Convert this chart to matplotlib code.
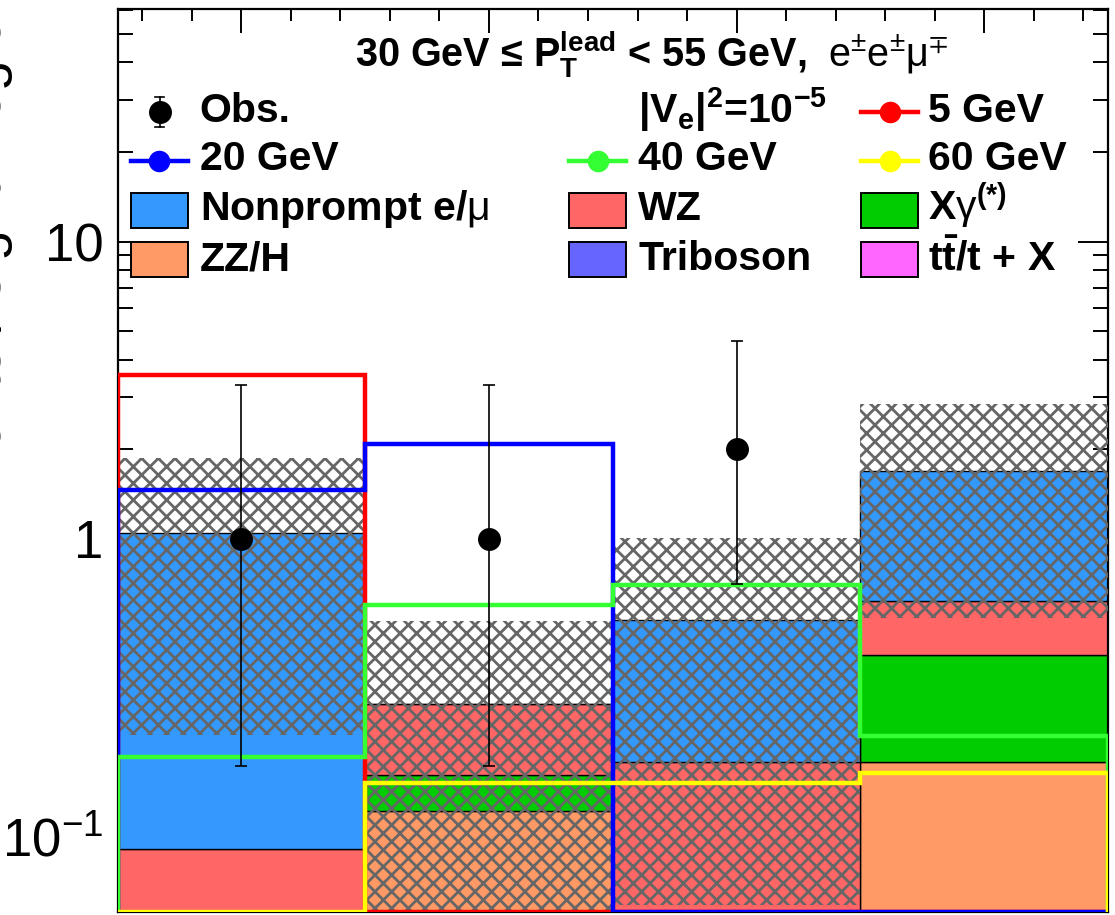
import numpy as np
import matplotlib
matplotlib.use('Agg')
import matplotlib.pyplot as plt
from matplotlib.patches import Rectangle
from matplotlib.lines import Line2D
from matplotlib.ticker import FixedLocator, MultipleLocator, NullFormatter, FixedFormatter

plt.rcParams['font.family'] = ['Liberation Sans', 'DejaVu Sans']
plt.rcParams['mathtext.fontset'] = 'custom'
plt.rcParams['mathtext.rm'] = 'Liberation Sans'
plt.rcParams['mathtext.it'] = 'Liberation Sans:italic'
plt.rcParams['mathtext.bf'] = 'Liberation Sans:bold'
plt.rcParams['mathtext.default'] = 'regular'
plt.rcParams['hatch.linewidth'] = 2.0

# ---------------- data ----------------
bin_edges = [0.5, 1.5, 2.5, 3.5, 4.5]
bin_centers = [1, 2, 3, 4]

# backgrounds (stacked bottom -> top)
ttx = [0.005, 0.005, 0.005, 0.005]
triboson = [0.005, 0.005, 0.005, 0.005]
zzh = [0.020, 0.112, 0.025, 0.168]
xgamma = [0.010, 0.039, 0.015, 0.228]
wz = [0.051, 0.118, 0.128, 0.211]
nonprompt = [0.957, 0.0, 0.354, 1.075]
bkg_unc = [0.828, 0.250, 0.473, 1.150]

# signals |V_e|^2 = 1e-5
sig_5 = [3.57, 0.0, 0.0, 0.0]
sig_20 = [1.46, 2.08, 0.0, 0.0]
sig_40 = [0.185, 0.602, 0.702, 0.217]
sig_60 = [0.0, 0.151, 0.151, 0.163]

obs = [1, 1, 2, 0]
obs_err_lo = [0.827, 0.827, 1.292, 0.0]
obs_err_hi = [2.300, 2.300, 2.638, 0.0]

YMIN, YMAX = 0.0557, 60.5

c_np, c_wz, c_xg = '#3399FF', '#FF6666', '#00CC00'
c_zz, c_tri, c_ttx = '#FF9966', '#6666FF', '#FF66FF'
sig_colors = ['#FF0000', '#0000FF', '#33FF33', '#FFFF00']

W, H = 1115, 915
fig = plt.figure(figsize=(W / 100, H / 100), dpi=100)


def fx(px):
    return px / W


def fy(py):
    return 1 - py / H


ax = fig.add_axes([fx(117.5), fy(912), (1108 - 117.5) / W, (912 - 9) / H])
ax.set_yscale('log')
ax.set_xlim(bin_edges[0], bin_edges[-1])
ax.set_ylim(YMIN, YMAX)

# stacked backgrounds
stack = [(ttx, c_ttx), (triboson, c_tri), (zzh, c_zz), (xgamma, c_xg),
         (wz, c_wz), (nonprompt, c_np)]
bottom = np.zeros(4)
for vals, col in stack:
    vals = np.array(vals)
    ax.bar(bin_centers, vals, bottom=bottom, width=1.0, color=col,
           edgecolor='black', linewidth=1.0, zorder=2)
    bottom = bottom + vals
total = bottom

# uncertainty band
unc = np.array(bkg_unc)
ax.bar(bin_centers, 2 * unc, bottom=total - unc, width=1.0, fill=False,
       hatch='xx', edgecolor='#666666', linewidth=0, zorder=3)

# signals
for vals, col in zip([sig_5, sig_20, sig_40, sig_60], sig_colors):
    v = np.maximum(np.array(vals), YMIN)
    ax.stairs(v, bin_edges, baseline=YMIN, color=col, linewidth=3.2, zorder=4)

# observed
obs_a = np.array(obs, dtype=float)
m = obs_a > 0
ax.errorbar(np.array(bin_centers)[m], obs_a[m],
            yerr=[np.array(obs_err_lo)[m], np.array(obs_err_hi)[m]],
            fmt='o', color='black', markersize=15.5, elinewidth=1.2,
            capsize=4.5, capthick=1.2, zorder=6)

# axes styling
for s in ax.spines.values():
    s.set_linewidth(1.6)
ax.xaxis.set_major_locator(MultipleLocator(1))
ax.xaxis.set_minor_locator(MultipleLocator(0.2))
ax.tick_params(axis='x', which='both', direction='in', top=True, bottom=True,
               labelbottom=False, width=1.4)
ax.tick_params(axis='x', which='major', length=17)
ax.tick_params(axis='x', which='minor', length=8.6)
ax.yaxis.set_major_locator(FixedLocator([0.1, 1, 10]))
ax.yaxis.set_major_formatter(FixedFormatter(['$10^{-1}$', '1', '10']))
minors = [k * d for d in [0.01, 0.1, 1, 10] for k in range(2, 10)]
ax.yaxis.set_minor_locator(FixedLocator(minors))
ax.yaxis.set_minor_formatter(NullFormatter())
ax.tick_params(axis='y', which='both', direction='in', left=True, right=True,
               width=1.4, labelsize=38, pad=10)
ax.tick_params(axis='y', which='major', length=21.6)
ax.tick_params(axis='y', which='minor', length=10.8)

# ---------------- header & legend ----------------
FS = 29.5
fig.text(fx(355), fy(66.7), '30 GeV \u2264 P$_{T}^{lead}$ < 55 GeV,', fontsize=28.5,
         fontweight='bold', va='baseline', ha='left')
fig.text(fx(828), fy(66.7), 'e$^{\\pm}$e$^{\\pm}\\mu^{\\mp}$', fontsize=28.5,
         va='baseline', ha='left')

col_box = [130.7, 569, 861]
col_txt = [199.7, 638.3, 928.3]
baselines = [122.5, 169.5, 220, 270.5]
sym_y = [111.7, 161]
box_top = [192.7, 242.3]
box_w, box_h = 57.3, 35

# Obs entry
ox, oy = 159.7, sym_y[0]
fig.add_artist(Line2D([fx(ox), fx(ox)], [fy(97), fy(127)], color='black', lw=1.2))
for yy in (97, 127):
    fig.add_artist(Line2D([fx(ox - 4.5), fx(ox + 4.5)], [fy(yy), fy(yy)], color='black', lw=1.2))
fig.add_artist(Line2D([fx(ox)], [fy(oy)], marker='o', color='black', markersize=15.5))
fig.text(fx(col_txt[0]), fy(baselines[0]), 'Obs.', fontsize=FS, fontweight='bold', va='baseline')

fig.text(fx(col_txt[1]), fy(baselines[0]), '|V$_{e}$|$^{2}$=10$^{-5}$', fontsize=FS,
         fontweight='bold', va='baseline')

sig_entries = [(2, 0, '5 GeV', sig_colors[0]), (0, 1, '20 GeV', sig_colors[1]),
               (1, 1, '40 GeV', sig_colors[2]), (2, 1, '60 GeV', sig_colors[3])]
for c, r, lab, col in sig_entries:
    x0 = col_box[c]
    y0 = sym_y[r]
    fig.add_artist(Line2D([fx(x0), fx(x0 + box_w)], [fy(y0), fy(y0)], color=col, lw=3.2))
    fig.add_artist(Line2D([fx(x0 + box_w / 2)], [fy(y0)], marker='o', color=col, markersize=14.5))
    fig.text(fx(col_txt[c]), fy(baselines[r]), lab, fontsize=FS, fontweight='bold', va='baseline')

box_entries = [(0, 0, 'Nonprompt e/$\\mathrm{\\mu}$', c_np), (1, 0, 'WZ', c_wz),
               (2, 0, 'X$\\mathrm{\\gamma}^{(*)}$', c_xg), (0, 1, 'ZZ/H', c_zz),
               (1, 1, 'Triboson', c_tri), (2, 1, 't$\\bar{t}$/t + X', c_ttx)]
for c, r, lab, col in box_entries:
    fig.add_artist(Rectangle((fx(col_box[c]), fy(box_top[r] + box_h)), box_w / W, box_h / H,
                             facecolor=col, edgecolor='black', linewidth=1.4))
    fig.text(fx(col_txt[c]), fy(baselines[2 + r]), lab, fontsize=FS, fontweight='bold',
             va='baseline')

# y-axis title, mostly cropped at the left edge as in the reference
fig.text(fx(13), fy(-15), 'Events / signal region', rotation=90, fontsize=40,
         ha='right', va='top')

fig.savefig('out.png', dpi=100)
